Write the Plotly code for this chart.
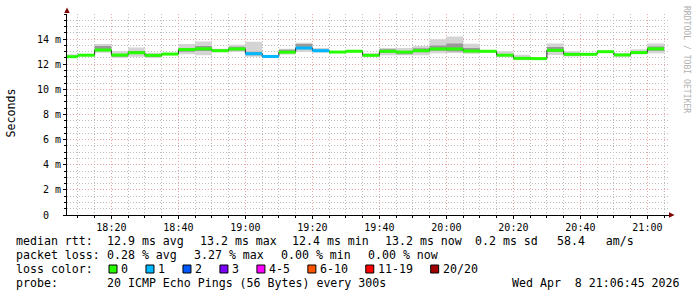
import pandas as pd
import plotly.graph_objects as go

# ---------------- data (5-minute SmokePing steps) ----------------
seg_start = pd.date_range("2026-04-08 18:05:00", periods=36, freq="5min")
seg_end_last = pd.Timestamp("2026-04-08 21:05:00")

median_ms = [12.60, 12.72, 13.13, 12.73, 12.92, 12.71, 12.81, 13.17, 13.23, 13.08,
             13.22, 12.84, 12.62, 12.96, 13.29, 13.08, 12.97, 13.03, 12.71, 13.03,
             12.97, 13.08, 13.22, 13.22, 13.05, 13.03, 12.72, 12.47, 12.45, 13.11,
             12.79, 12.79, 13.00, 12.74, 12.93, 13.23]
loss_cnt = [0, 0, 0, 0, 0, 0, 0, 0, 0, 0,
            0, 1, 1, 0, 1, 1, 0, 0, 0, 0,
            0, 0, 0, 0, 0, 0, 0, 0, 0, 0,
            0, 0, 0, 0, 0, 0]
smoke_min = [12.55, 12.66, 12.92, 12.50, 12.60, 12.50, 12.75, 12.80, 12.72, 12.95,
             12.97, 12.60, 12.57, 12.78, 12.97, 12.92, 12.92, 12.97, 12.62, 12.71,
             12.71, 12.71, 12.87, 12.90, 12.84, 12.94, 12.60, 12.32, 12.34, 12.74,
             12.62, 12.72, 12.94, 12.60, 12.80, 12.87]
smoke_max = [12.80, 12.78, 13.61, 13.03, 13.34, 12.92, 12.88, 13.62, 13.82, 13.24,
             13.56, 13.80, 12.68, 13.24, 13.72, 13.29, 13.03, 13.15, 12.88, 13.29,
             13.29, 13.45, 14.00, 14.21, 13.63, 13.12, 13.03, 12.76, 12.52, 13.66,
             13.03, 12.85, 13.08, 12.90, 13.20, 13.66]
smoke_qlo = [12.58, 12.68, 13.05, 12.62, 12.82, 12.58, 12.78, 13.00, 13.05, 13.02,
             13.10, 12.72, 12.59, 12.90, 13.20, 13.00, 12.94, 13.00, 12.66, 12.92,
             12.80, 12.95, 13.08, 13.02, 12.95, 12.98, 12.65, 12.40, 12.38, 12.98,
             12.70, 12.75, 12.97, 12.66, 12.86, 13.08]
smoke_qhi = [12.65, 12.75, 13.45, 12.82, 13.05, 12.76, 12.85, 13.30, 13.45, 13.18,
             13.40, 13.00, 12.65, 13.15, 13.62, 13.18, 13.00, 13.13, 12.80, 13.20,
             13.05, 13.28, 13.50, 13.65, 13.30, 13.08, 12.82, 12.58, 12.48, 13.38,
             12.88, 12.82, 13.04, 12.82, 13.02, 13.42]

loss_labels = ["0", "1", "2", "3", "4-5", "6-10", "11-19", "20/20"]
loss_colors = ["#26ff00", "#00b8ff", "#0059ff", "#7e00ff", "#ff00ff", "#ff5500", "#ff0000", "#a10000"]

y_tickvals = [0, 2, 4, 6, 8, 10, 12, 14]
y_ticktext = ["0\u00a0\u00a0", "2 m", "4 m", "6 m", "8 m", "10 m", "12 m", "14 m"]

stats_line1 = ["median rtt:", "12.9 ms avg", "13.2 ms max", "12.4 ms min", "13.2 ms now",
               "0.2 ms sd", "58.4\u00a0\u00a0\u00a0am/s"]
stats_line2 = ["packet loss:", "0.28 % avg", "3.27 % max", "0.00 % min", "0.00 % now"]
probe_text = ["probe:", "20 ICMP Echo Pings (56 Bytes) every 300s"]
date_text = "Wed Apr\u00a0\u00a08 21:06:45 2026"

# ---------------- geometry ----------------
W, H = 697, 297
L, R, T, B = 67, 670, 14, 215
PW, PH = R - L, B - T
MONO = "DejaVu Sans Mono"


def px(x):
    return (x - L) / PW


def py(y):
    return (B - y) / PH


xs = list(seg_start) + [seg_end_last]


def step_y(vals):
    return list(vals) + [vals[-1]]


fig = go.Figure()

# outer smoke
fig.add_trace(go.Scatter(x=xs, y=step_y(smoke_min), mode="lines", line=dict(width=0, shape="hv"),
                         hoverinfo="skip", showlegend=False))
fig.add_trace(go.Scatter(x=xs, y=step_y(smoke_max), mode="lines", line=dict(width=0, shape="hv"),
                         fill="tonexty", fillcolor="#d4d4d4", hoverinfo="skip", showlegend=False))
# inner smoke
fig.add_trace(go.Scatter(x=xs, y=step_y(smoke_qlo), mode="lines", line=dict(width=0, shape="hv"),
                         hoverinfo="skip", showlegend=False))
fig.add_trace(go.Scatter(x=xs, y=step_y(smoke_qhi), mode="lines", line=dict(width=0, shape="hv"),
                         fill="tonexty", fillcolor="#999999", hoverinfo="skip", showlegend=False))
# median dark line
fig.add_trace(go.Scatter(x=xs, y=step_y(median_ms), mode="lines",
                         line=dict(width=1, shape="hv", color="#202020"),
                         hoverinfo="skip", showlegend=False))


def loss_bucket(n):
    if n <= 3:
        return n
    if n <= 5:
        return 4
    if n <= 10:
        return 5
    if n <= 19:
        return 6
    return 7


for b, col in enumerate(loss_colors):
    sx, sy = [], []
    for i, v in enumerate(median_ms):
        if loss_bucket(loss_cnt[i]) != b:
            continue
        sx += [xs[i], xs[i + 1], None]
        sy += [v, v, None]
    if sx:
        fig.add_trace(go.Scatter(x=sx, y=sy, mode="lines", line=dict(width=3, color=col),
                                 hoverinfo="skip", showlegend=False))

annotations = []


def text(x, y, s, anchor="left", size=11.6, color="black", angle=0, family=MONO, yanchor="middle"):
    annotations.append(dict(x=px(x), y=py(y), xref="paper", yref="paper", text=s, showarrow=False,
                            xanchor=anchor, yanchor=yanchor, textangle=angle,
                            font=dict(family=family, size=size, color=color),
                            borderpad=0, borderwidth=0))


line1_x = [16, 106.5, 199.5, 292, 385, 474.5, 557]
for xx, s in zip(line1_x, stats_line1):
    text(xx, 241, s)
line2_x = [16, 106.5, 193.8, 281.1, 368.4]
for xx, s in zip(line2_x, stats_line2):
    text(xx, 255, s)

text(16, 269, "loss color:")
shapes = []
sq_x = 109
for lab, col in zip(loss_labels, loss_colors):
    shapes.append(dict(type="rect", xref="paper", yref="paper",
                       x0=px(sq_x), x1=px(sq_x + 8), y0=py(273), y1=py(265),
                       fillcolor=col, line=dict(color="black", width=1)))
    text(sq_x + 12, 269, lab)
    sq_x += 12 + 6.98 * len(lab) + 18

text(16, 283, probe_text[0])
text(106.5, 283, probe_text[1])
text(680, 283, date_text, anchor="right")

text(10, 113.5, "Seconds", anchor="center", angle=-90)
text(687, 59, "RRDTOOL / TOBI OETIKER", anchor="center", angle=90, size=8.1, color="#b0b0b0")

# arrows
shapes.append(dict(type="path", xref="paper", yref="paper",
                   path=f"M {px(64.3)},{py(13)} L {px(69.7)},{py(13)} L {px(67)},{py(7.5)} Z",
                   fillcolor="#7f0000", line=dict(width=0)))
shapes.append(dict(type="path", xref="paper", yref="paper",
                   path=f"M {px(669)},{py(212.3)} L {px(669)},{py(217.7)} L {px(674.5)},{py(215)} Z",
                   fillcolor="#7f0000", line=dict(width=0)))

grid_minor = "#bdbdbd"
grid_major = "#eba3a3"

fig.update_layout(
    width=W, height=H, autosize=False,
    margin=dict(l=L, r=W - R, t=T, b=H - B, pad=0),
    paper_bgcolor="white", plot_bgcolor="white",
    showlegend=False,
    annotations=annotations, shapes=shapes,
    font=dict(family=MONO, size=10, color="black"),
    xaxis=dict(type="date", range=["2026-04-08 18:06:45", "2026-04-08 21:06:45"],
               tick0="2026-04-08 18:00:00", dtick=20 * 60 * 1000, tickformat="%H:%M",
               showgrid=True, gridcolor=grid_major, griddash="1px,2px", gridwidth=1,
               minor=dict(tick0="2026-04-08 18:00:00", dtick=5 * 60 * 1000, showgrid=True,
                          gridcolor=grid_minor, griddash="1px,2px", gridwidth=1,
                          ticks="outside", ticklen=2, tickcolor="black"),
               showline=True, linecolor="black", linewidth=1,
               ticks="outside", ticklen=3, tickcolor="black",
               tickfont=dict(family=MONO, size=10, color="black"), fixedrange=True),
    yaxis=dict(range=[0, 16], tickmode="array", tickvals=y_tickvals, ticktext=y_ticktext,
               showgrid=True, gridcolor=grid_major, griddash="1px,2px", gridwidth=1,
               minor=dict(tick0=0, dtick=0.5, showgrid=True, gridcolor=grid_minor,
                          griddash="1px,2px", gridwidth=1, ticks="outside", ticklen=2,
                          tickcolor="black"),
               zeroline=False, showline=True, linecolor="black", linewidth=1,
               ticks="outside", ticklen=3, tickcolor="black",
               tickfont=dict(family=MONO, size=10, color="black"), fixedrange=True),
)

fig.write_html("out.html", config={"displayModeBar": False})
